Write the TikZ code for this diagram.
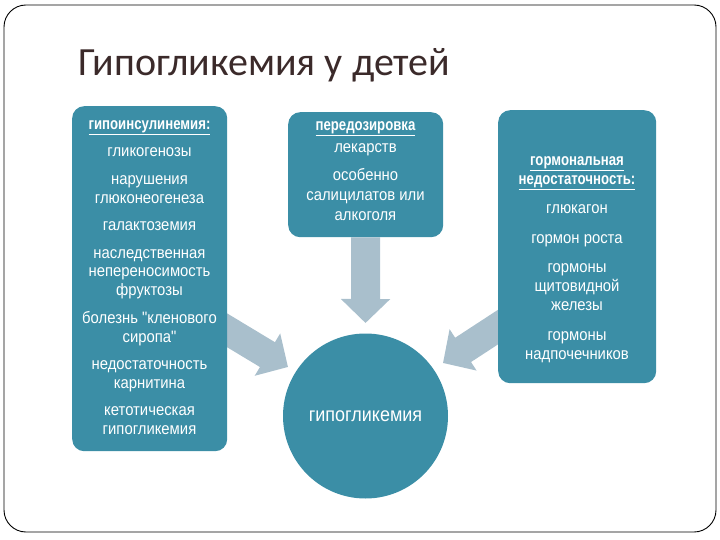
\documentclass[tikz,border=0pt]{standalone}
\usepackage{fontspec}
\setmainfont{Liberation Sans}
\newfontfamily\titlefont{Carlito}
\newfontfamily\bodyfont[FakeStretch=0.9]{Liberation Sans}
\newfontfamily\hdrfont[FakeStretch=0.8]{Liberation Sans}
\newcommand\hdr[1]{\underline{{\hdrfont\bfseries #1}}}
\usetikzlibrary{arrows.meta}
\definecolor{boxteal}{HTML}{3B8EA6}
\definecolor{arrowgray}{HTML}{A9BFCC}
\definecolor{titlecol}{HTML}{3B2A2A}
\pgfdeclarelayer{bg}
\pgfsetlayers{bg,main}
\begin{document}
\begin{tikzpicture}[x=1pt,y=-1pt,
  box/.style={fill=boxteal, rounded corners=12pt, draw=none, inner sep=0pt},
  boxtext/.style={text=white, font=\bodyfont\fontsize{16.5}{18.9}\selectfont, align=center, inner sep=0pt},
  bigarrow/.style={draw=arrowgray, line width=29pt, -{Triangle[width=48pt,length=24pt]}}
]
\useasboundingbox (0,0) rectangle (720,540);
\draw[rounded corners=22pt, line width=0.9pt] (4,5) rectangle (716,532);
\node[anchor=base west, inner sep=0pt, font=\titlefont\fontsize{40}{40}\selectfont, text=titlecol] (title) at (78,76) {Гипогликемия у детей};

\node[box, minimum width=155pt, minimum height=345pt, anchor=north west] (left) at (72,106) {};
\node[box, minimum width=155pt, minimum height=125pt, anchor=north west] (mid) at (288,112) {};
\node[box, minimum width=158pt, minimum height=273pt, anchor=north west] (right) at (498,110) {};
\node[circle, fill=boxteal, minimum size=165pt, inner sep=0pt, text=white,
      font=\bodyfont\fontsize{20}{22}\selectfont] (hypo) at (365.5,416) {гипогликемия};

\node[boxtext, anchor=north] (lefttext) at (149.5,120.5) {\hdr{гипоинсулинемия:}\\[8.5pt]
гликогенозы\\[8.5pt]
нарушения\\ глюконеогенеза\\[8.5pt]
галактоземия\\[8.5pt]
наследственная\\ непереносимость\\ фруктозы\\[8.5pt]
болезнь "кленового\\ сиропа"\\[8.5pt]
недостаточность\\ карнитина\\[8.5pt]
кетотическая\\ гипогликемия};

\node[boxtext, font=\bodyfont\fontsize{16.5}{20}\selectfont, anchor=north] (midtext) at (365.5,121) {\hdr{передозировка}\\[2pt] лекарств\\[8pt]
особенно\\ салицилатов или\\ алкоголя};

\node[boxtext, font=\bodyfont\fontsize{16.5}{19}\selectfont, anchor=north] (righttext) at (577,156) {\hdr{гормональная}\\ \hdr{недостаточность:}\\[10.5pt]
глюкагон\\[10.5pt]
гормон роста\\[10.5pt]
гормоны\\ щитовидной\\ железы\\[10.5pt]
гормоны\\ надпочечников};

\coordinate (tipM) at (365.5,323);
\coordinate (tipL) at (288,367);
\coordinate (tipR) at (443,363);
\coordinate (startL) at (210,320);
\coordinate (startR) at (515,316);
\begin{pgfonlayer}{bg}
\draw[bigarrow] (mid.south) -- (tipM);
\draw[bigarrow] (startL) -- (tipL);
\draw[bigarrow] (startR) -- (tipR);
\end{pgfonlayer}
\end{tikzpicture}
\end{document}
